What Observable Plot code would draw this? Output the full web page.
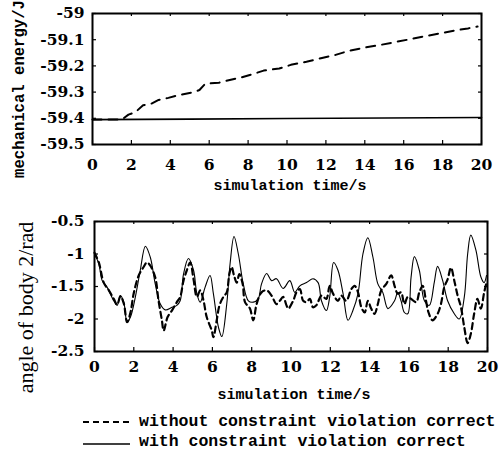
<!DOCTYPE html>
<html><head><meta charset="utf-8">
<script src="https://cdn.jsdelivr.net/npm/d3@7"></script>
<script src="https://cdn.jsdelivr.net/npm/@observablehq/plot@0.6"></script>
<style>
body{margin:0;background:#fff;}
#wrap{position:relative;width:500px;height:450px;overflow:hidden;background:#fff;}
#p1{position:absolute;left:0;top:0;z-index:2;}
#p2{position:absolute;left:0;top:200px;z-index:1;}
.lrow{position:absolute;left:83px;height:20px;display:flex;align-items:center;font-family:"Liberation Mono",monospace;font-weight:bold;font-size:16.5px;color:#000;white-space:nowrap;}
.lrow svg{margin-right:8px;}
</style>
</head><body>
<div id="wrap"><div id="p1"></div><div id="p2"></div><div id="legend"></div></div>
<script>
// ---- data ----
const timeTicks = [0,2,4,6,8,10,12,14,16,18,20];
const timeTickLabels = ["0","2","4","6","8","10","12","14","16","18","20"];
const energyTicks = [-59,-59.1,-59.2,-59.3,-59.4,-59.5];
const energyTickLabels = ["-59","-59.1","-59.2","-59.3","-59.4","-59.5"];
const angleTicks = [-0.5,-1,-1.5,-2,-2.5];
const angleTickLabels = ["-0.5","-1","-1.5","-2","-2.5"];

const seriesNames = ["without constraint violation correct","with constraint violation correct"];
const xLabel = "simulation time/s";
const yLabelTop = "mechanical energy/J";
const yLabelBottom = "angle of body 2/rad";

// top: mechanical energy
const energyWithT = [0,5,10,15,20];
const energyWithV = [-59.405,-59.403,-59.401,-59.399,-59.397];
const energyWithoutT = [0,1.5,1.85,2.2,2.6,3.0,3.4,3.9,4.4,5.2,5.5,5.8,6.5,7.0,7.6,8.2,8.8,9.6,10.2,11.0,11.8,12.5,13.2,14.0,14.8,15.5,16.2,17.0,17.8,18.6,19.3,19.8];
const energyWithoutV = [-59.405,-59.405,-59.386,-59.377,-59.35,-59.345,-59.33,-59.322,-59.312,-59.3,-59.292,-59.268,-59.264,-59.255,-59.245,-59.232,-59.218,-59.21,-59.196,-59.184,-59.17,-59.158,-59.142,-59.13,-59.12,-59.11,-59.1,-59.088,-59.077,-59.065,-59.057,-59.05];

// bottom: angle of body 2
const angleWithT = [0,0.22,0.39,0.64,0.98,1.15,1.32,1.49,1.66,1.83,2.08,2.33,2.59,2.84,3.09,3.35,3.6,3.94,4.19,4.36,4.53,4.78,5.04,5.21,5.38,5.63,5.88,6.05,6.31,6.48,6.73,6.9,7.1,7.32,7.57,7.83,8.08,8.33,8.5,8.76,9.01,9.26,9.6,9.94,10.19,10.45,10.79,11.12,11.38,11.55,11.8,11.97,12.17,12.39,12.65,12.9,13.15,13.41,13.66,13.91,14.17,14.42,14.67,14.93,15.27,15.43,15.6,15.77,15.94,16.11,16.28,16.53,16.79,17.04,17.29,17.46,17.72,17.97,18.31,18.56,18.82,18.99,19.15,19.41,19.66,19.83,19.95];
const angleWithV = [-1.0,-1.15,-1.41,-1.51,-1.72,-1.79,-1.64,-1.74,-2.05,-1.97,-1.66,-1.25,-0.88,-1.05,-1.46,-1.77,-1.86,-1.82,-1.79,-1.72,-1.31,-1.07,-1.25,-1.61,-1.74,-1.51,-1.33,-1.61,-2.13,-2.27,-1.77,-1.15,-0.73,-1.0,-1.46,-1.72,-1.74,-1.69,-1.46,-1.3,-1.41,-1.38,-1.53,-1.41,-1.59,-1.49,-1.44,-1.38,-1.44,-1.72,-1.87,-1.66,-1.13,-1.25,-1.61,-2.02,-1.87,-1.61,-1.0,-0.75,-1.05,-1.46,-1.59,-1.84,-1.72,-1.59,-1.72,-1.9,-1.92,-1.36,-1.04,-1.25,-1.72,-1.79,-1.44,-1.19,-1.41,-1.72,-1.92,-2.0,-1.66,-1.0,-0.71,-0.94,-1.35,-1.44,-1.33];
const angleWithoutT = [0,0.22,0.47,0.73,0.98,1.15,1.32,1.49,1.66,1.83,2.0,2.25,2.5,2.67,2.84,3.09,3.26,3.43,3.52,3.72,3.94,4.19,4.36,4.53,4.7,4.87,5.04,5.21,5.38,5.55,5.71,5.97,6.05,6.22,6.36,6.56,6.73,6.86,6.98,7.1,7.24,7.37,7.54,7.66,7.91,8.08,8.25,8.5,8.76,9.01,9.26,9.43,9.6,9.77,9.86,10.11,10.28,10.45,10.62,10.79,10.96,11.12,11.29,11.55,11.8,11.97,12.14,12.39,12.56,12.81,13.07,13.24,13.41,13.58,13.75,13.91,14.08,14.25,14.42,14.59,14.85,15.1,15.27,15.43,15.6,15.77,15.94,16.11,16.37,16.53,16.7,16.87,17.0,17.2,17.46,17.63,17.8,17.97,18.14,18.31,18.48,18.65,18.82,18.99,19.15,19.32,19.49,19.66,19.83,19.95];
const angleWithoutV = [-0.98,-1.13,-1.44,-1.56,-1.69,-1.78,-1.65,-1.76,-2.05,-1.9,-1.6,-1.33,-1.2,-1.13,-1.18,-1.36,-1.72,-2.02,-2.18,-1.97,-1.87,-1.74,-1.66,-1.41,-1.25,-1.13,-1.39,-1.66,-1.56,-1.72,-1.97,-2.18,-2.28,-2.02,-1.79,-1.66,-1.59,-1.31,-1.2,-1.33,-1.44,-1.31,-1.46,-1.74,-1.84,-2.02,-1.77,-1.59,-1.56,-1.64,-1.77,-1.72,-1.66,-1.79,-1.84,-1.72,-1.59,-1.54,-1.72,-1.74,-1.69,-1.82,-1.79,-1.64,-1.69,-1.49,-1.61,-1.72,-1.64,-1.72,-1.54,-1.49,-1.59,-1.82,-1.9,-1.72,-1.84,-1.92,-1.77,-1.56,-1.46,-1.33,-1.49,-1.61,-1.59,-1.77,-1.66,-1.69,-1.74,-1.59,-1.49,-1.72,-1.9,-2.02,-1.92,-1.77,-1.51,-1.39,-1.21,-1.41,-1.64,-1.82,-2.13,-2.37,-2.23,-1.92,-1.69,-1.84,-1.59,-1.44];

// ---- helpers ----
const table = (ts, vs) => ts.map((t, i) => ({t, v: vs[i]}));
const fmt = (ticks, labels) => { const m = new Map(ticks.map((t, i) => [t, labels[i]])); return d => m.get(d); };
const tickFont = {fontFamily: "DejaVu Serif", fontWeight: "bold", fontSize: 15.5};
const monoFont = {fontFamily: "Liberation Mono", fontWeight: "bold", fontSize: 15};

function panel({W, H, mt, mr, mb, ml, yDomain, yTicks, yLabels, xPad, yPad, series, yLabel, yLabelDx, yLabelDy, yLabelFont, xLabelDy}) {
  const pw = W - ml - mr, ph = H - mt - mb;
  return Plot.plot({
    width: W, height: H, marginTop: mt, marginRight: mr, marginBottom: mb, marginLeft: ml,
    style: {background: "transparent", color: "black", overflow: "visible"},
    x: {domain: [0, 20]},
    y: {domain: yDomain},
    marks: [
      Plot.axisX(timeTicks, {tickSize: 0, tickPadding: xPad, tickFormat: fmt(timeTicks, timeTickLabels), label: null, ...tickFont}),
      Plot.axisY(yTicks, {tickSize: 0, tickPadding: yPad, tickFormat: fmt(yTicks, yLabels), label: null, ...tickFont}),
      // inward ticks on all four sides
      Plot.tickX(timeTicks, {x: d => d, insetTop: ph - 4, stroke: "black", strokeWidth: 1.2}),
      Plot.tickX(timeTicks, {x: d => d, insetBottom: ph - 3, stroke: "black", strokeWidth: 1.2}),
      Plot.tickY(yTicks, {y: d => d, insetRight: pw - 4, stroke: "black", strokeWidth: 1.2}),
      Plot.tickY(yTicks, {y: d => d, insetLeft: pw - 3, stroke: "black", strokeWidth: 1.2}),
      ...series,
      Plot.frame({stroke: "black", strokeWidth: 2}),
      Plot.text([xLabel], {frameAnchor: "bottom", lineAnchor: "middle", textAnchor: "middle", dx: 3, dy: xLabelDy, text: d => d, ...monoFont}),
      Plot.text([yLabel], {frameAnchor: "left", rotate: -90, textAnchor: "middle", lineAnchor: "middle", dx: yLabelDx, dy: yLabelDy, text: d => d, ...yLabelFont})
    ]
  });
}

const p1 = panel({
  W: 500, H: 200, mt: 13, mr: 19, mb: 56, ml: 92,
  yDomain: [-59.5, -59], yTicks: energyTicks, yLabels: energyTickLabels,
  xPad: 14, yPad: 8,
  series: [
    Plot.line(table(energyWithT, energyWithV), {x: "t", y: "v", stroke: "black", strokeWidth: 1.6}),
    Plot.line(table(energyWithoutT, energyWithoutV), {x: "t", y: "v", stroke: "black", strokeWidth: 2, strokeDasharray: "9,7"})
  ],
  yLabel: yLabelTop, yLabelDx: -74, yLabelDy: 10,
  yLabelFont: {fontFamily: "Liberation Mono", fontWeight: "bold", fontSize: 15.6},
  xLabelDy: 41
});
document.getElementById("p1").appendChild(p1);

const p2 = panel({
  W: 500, H: 205, mt: 21, mr: 13, mb: 54, ml: 94,
  yDomain: [-2.5, -0.5], yTicks: angleTicks, yLabels: angleTickLabels,
  xPad: 9, yPad: 10,
  series: [
    Plot.line(table(angleWithT, angleWithV), {x: "t", y: "v", stroke: "black", strokeWidth: 1.1, curve: "catmull-rom"}),
    Plot.line(table(angleWithoutT, angleWithoutV), {x: "t", y: "v", stroke: "black", strokeWidth: 2.2, strokeDasharray: "6,4", curve: "catmull-rom"})
  ],
  yLabel: yLabelBottom, yLabelDx: -69, yLabelDy: 21,
  yLabelFont: {fontFamily: "Liberation Serif", fontSize: 22},
  xLabelDy: 43
});
document.getElementById("p2").appendChild(p2);

// legend
const legend = document.getElementById("legend");
const dashes = ["6,4", null];
const widths = [2.2, 1.4];
const rowTops = [411, 431];
seriesNames.forEach((name, i) => {
  const row = document.createElement("div");
  row.className = "lrow";
  row.style.top = rowTops[i] + "px";
  const svg = d3.create("svg").attr("width", 48).attr("height", 20);
  svg.append("line").attr("x1", 0).attr("x2", 47).attr("y1", i ? 13 : 11).attr("y2", i ? 13 : 11)
    .attr("stroke", "black").attr("stroke-width", widths[i]).attr("stroke-dasharray", dashes[i]);
  row.appendChild(svg.node());
  const span = document.createElement("span");
  span.textContent = name;
  row.appendChild(span);
  legend.appendChild(row);
});
</script>
</body></html>
